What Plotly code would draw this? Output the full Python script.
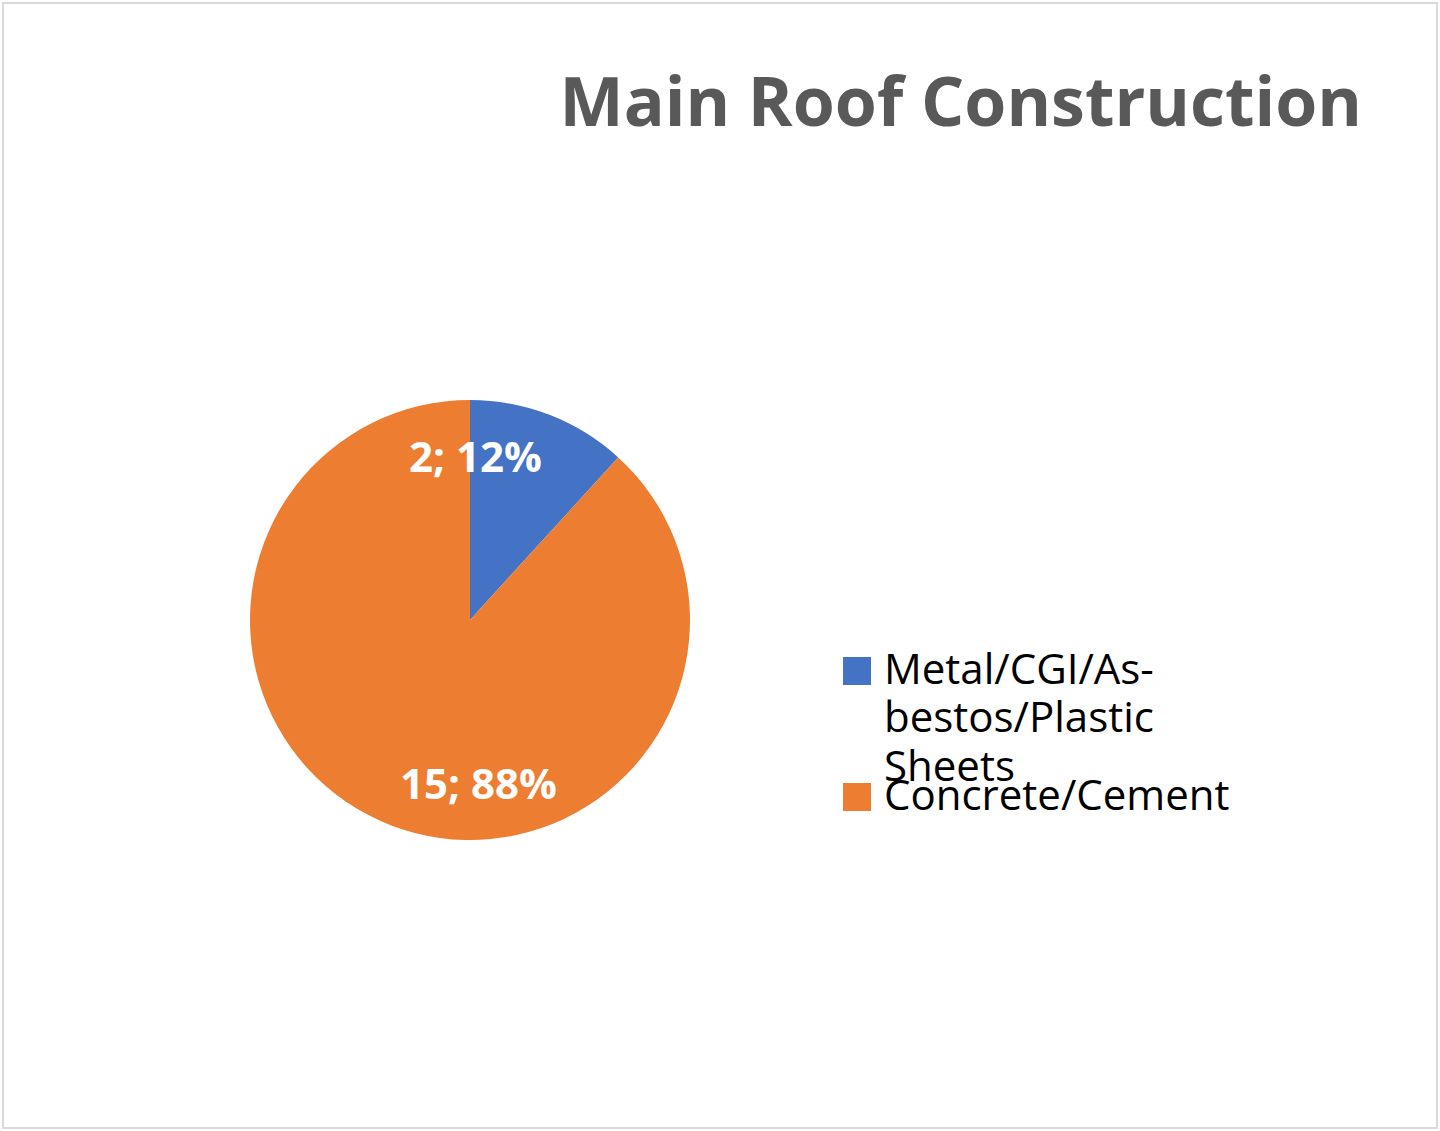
import plotly.graph_objects as go

# data
categories = ["Metal/CGI/As-bestos/Plastic Sheets", "Concrete/Cement"]
legend_lines = [["Metal/CGI/As-", "bestos/Plastic", "Sheets"], ["Concrete/Cement"]]
values = [2, 15]
colors = ["#4472C4", "#ED7D31"]

W, H = 1440, 1131
FONT = "Open Sans"

total = sum(values)
pct = [round(v / total * 100) for v in values]

fig = go.Figure()
fig.add_trace(go.Pie(
    labels=categories,
    values=values,
    sort=False,
    direction="clockwise",
    rotation=0,
    marker=dict(colors=colors, line=dict(width=0)),
    textinfo="none",
    hoverinfo="label+value+percent",
    showlegend=False,
    domain=dict(x=[250 / W, 690 / W], y=[(H - 840) / H, (H - 400) / H]),
))

# data labels (placed like Excel's best fit)
label_pos = [(475, 455), (478, 782)]
for (px, py), v, p in zip(label_pos, values, pct):
    fig.add_annotation(
        x=px / W, y=1 - py / H, xref="paper", yref="paper",
        text=f"<b>{v}; {p}%</b>", showarrow=False,
        font=dict(family=FONT, size=42, color="white"),
        xanchor="center", yanchor="middle",
    )

# legend drawn by hand so that the entries overlap like the original
legend_rows = [671, 797]
line_gap = 48.5
for row, lines, col in zip(legend_rows, legend_lines, colors):
    fig.add_shape(
        type="rect", xref="paper", yref="paper",
        x0=843 / W, x1=871 / W, y0=1 - (row - 14) / H, y1=1 - (row + 14) / H,
        fillcolor=col, line=dict(width=0),
    )
    for i, txt in enumerate(lines):
        fig.add_annotation(
            x=882 / W, y=1 - (row - 4 + i * line_gap) / H, xref="paper", yref="paper",
            text=txt, showarrow=False, align="left",
            font=dict(family=FONT, size=42, color="black"),
            xanchor="left", yanchor="middle",
        )

# chart border
fig.add_shape(
    type="rect", xref="paper", yref="paper",
    x0=3 / W, x1=1437 / W, y0=3 / H, y1=1 - 3 / H,
    line=dict(color="#D9D9D9", width=2),
)

fig.update_layout(
    width=W, height=H,
    margin=dict(l=0, r=0, t=0, b=0),
    paper_bgcolor="white",
    plot_bgcolor="white",
    title=dict(
        text="<b>Main Roof Construction</b>",
        x=1362 / W, xanchor="right",
        y=1 - 102 / H, yanchor="middle",
        font=dict(family=FONT, size=68, color="#595959"),
    ),
)

fig.write_html("out.html", config={"displayModeBar": False},
               post_script="document.body.style.margin='0';")
